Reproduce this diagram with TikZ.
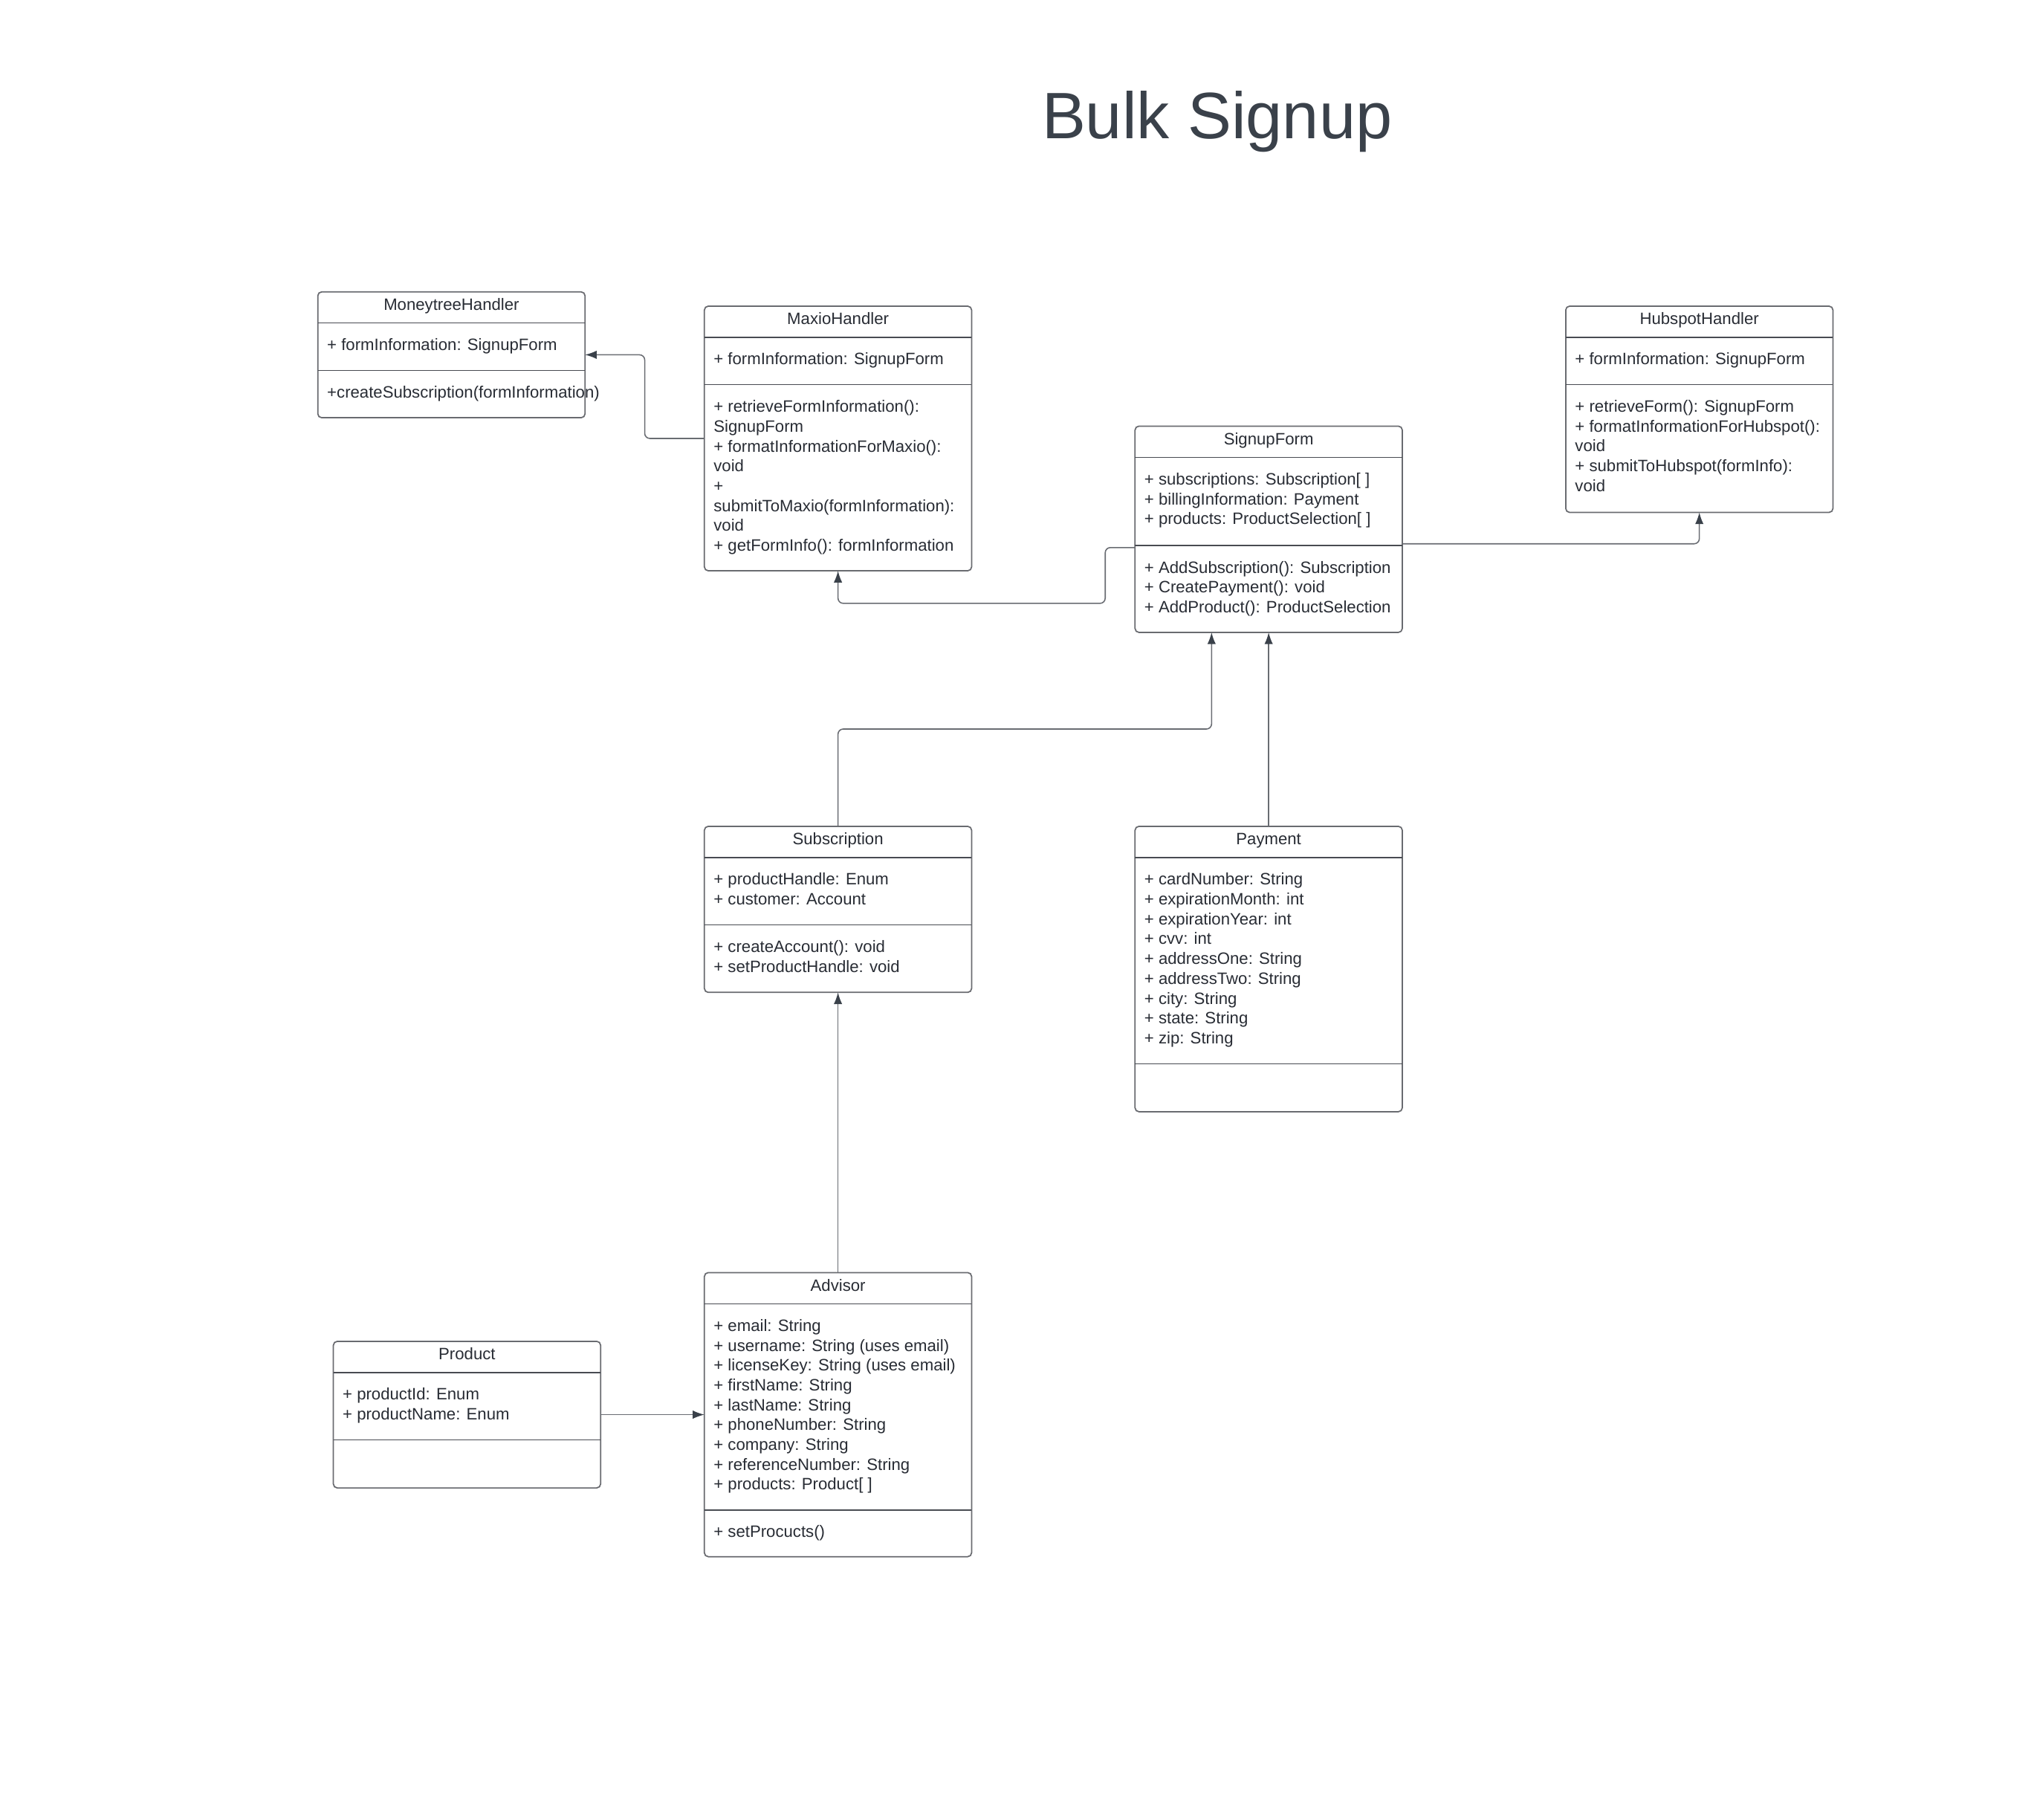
\documentclass[tikz,border=0pt]{standalone}
\usepackage{fontspec}
\setmainfont{Liberation Sans}
\usetikzlibrary{arrows.meta, calc}
\definecolor{ink}{RGB}{40, 44, 52}
\definecolor{headink}{RGB}{58, 65, 74}
\definecolor{edge}{RGB}{105, 107, 112}
\definecolor{rule}{RGB}{72, 75, 82}
\definecolor{wire}{RGB}{105, 108, 114}
\newcommand{\boxfont}{\fontsize{12.7}{15.3}\selectfont}
\tikzset{
  classbox/.style={draw=edge, line width=1pt, rounded corners=3pt, minimum width=206pt, inner sep=0pt, outer sep=0pt},
  classline/.style={draw=rule, line width=0.9pt},
  classtitle/.style={anchor=base, inner sep=0pt, text=ink, font=\boxfont},
  members/.style={anchor=north west, align=left, inner sep=0pt, text=ink, font=\boxfont},
  link/.style={draw=wire, line width=0.9pt, rounded corners=4pt, -{Latex[length=9pt, width=6.5pt, color=headink]}}
}
\newcommand{\umlclass}[8]{
  % #1 name, #2 left, #3 top, #4 height, #5 attribute block, #6 title, #7 attributes, #8 operations
  \node[classbox, minimum height=#4] (#1) at ({#2 + 103}, {#3 + #4 / 2}) {};
  \node[classtitle] (#1-title) at ({#2 + 103}, {#3 + 14.3}) {#6};
  \draw[classline] ({#2}, {#3 + 24}) -- ++(206, 0);
  \draw[classline] ({#2}, {#3 + 24 + #5}) -- ++(206, 0);
  \node[members] (#1-attr) at ({#2 + 7}, {#3 + 34.3}) {\strut #7};
  \node[members] (#1-ops) at ({#2 + 7}, {#3 + 34.3 + #5}) {\strut #8};
}
\begin{document}
\begin{tikzpicture}[x=1pt, y=-1pt]

  \fill[white] (0, 0) rectangle (1568, 1403);
  \useasboundingbox (0, 0) rectangle (1568, 1403);

  \node[anchor=base west, inner sep=0pt, text=headink, font=\fontsize{50.6}{60}\selectfont] (heading) at (803, 107) {Bulk Signup};

  \umlclass{moneytree}{245}{225}{97}{36.5}{MoneytreeHandler}
    {+ formInformation: SignupForm}
    {+createSubscription(formInformation)}
  \umlclass{maxio}{543}{236}{204}{36.5}{MaxioHandler}
    {+ formInformation: SignupForm}
    {+ retrieveFormInformation():\\SignupForm\\+ formatInformationForMaxio():\\void\\+\\submitToMaxio(formInformation):\\void\\+ getFormInfo(): formInformation}
  \umlclass{signup}{875}{328.5}{159}{68}{SignupForm}
    {+ subscriptions: Subscription[ ]\\+ billingInformation: Payment\\+ products: ProductSelection[ ]}
    {+ AddSubscription(): Subscription\\+ CreatePayment(): void\\+ AddProduct(): ProductSelection}
  \umlclass{hubspot}{1207}{236}{159}{36.5}{HubspotHandler}
    {+ formInformation: SignupForm}
    {+ retrieveForm(): SignupForm\\+ formatInformationForHubspot():\\void\\+ submitToHubspot(formInfo):\\void}
  \umlclass{subscription}{543}{637}{128}{52}{Subscription}
    {+ productHandle: Enum\\+ customer: Account}
    {+ createAccount(): void\\+ setProductHandle: void}
  \umlclass{payment}{875}{637}{220}{159}{Payment}
    {+ cardNumber: String\\+ expirationMonth: int\\+ expirationYear: int\\+ cvv: int\\+ addressOne: String\\+ addressTwo: String\\+ city: String\\+ state: String\\+ zip: String}
    {}
  \umlclass{advisor}{543}{981}{219}{159}{Advisor}
    {+ email: String\\+ username: String (uses email)\\+ licenseKey: String (uses email)\\+ firstName: String\\+ lastName: String\\+ phoneNumber: String\\+ company: String\\+ referenceNumber: String\\+ products: Product[ ]}
    {+ setProcucts()}
  \umlclass{product}{257}{1034}{113}{52}{Product}
    {+ productId: Enum\\+ productName: Enum}
    {}

  % connector ends on the form
  \coordinate (signup-left) at ($(signup.north west) + (0, 93.6)$);
  \coordinate (signup-right) at ($(signup.north east) + (0, 90.7)$);
  \coordinate (signup-in) at ($(signup.south) + (-44, 0)$);

  \draw[link] (maxio.west) -- ++(-46, 0) |- (moneytree.east);
  \draw[link] (signup-left) -- ++(-23, 0) -- ++(0, 43) -| (maxio.south);
  \draw[link] (signup-right) -| (hubspot.south);
  \draw[link] (subscription.north) -- ++(0, -75) -| (signup-in);
  \draw[link] (payment.north) -- (signup.south);
  \draw[link] (advisor.north) -- (subscription.south);
  \draw[link] (product.east) -- (advisor.west);

\end{tikzpicture}
\end{document}
